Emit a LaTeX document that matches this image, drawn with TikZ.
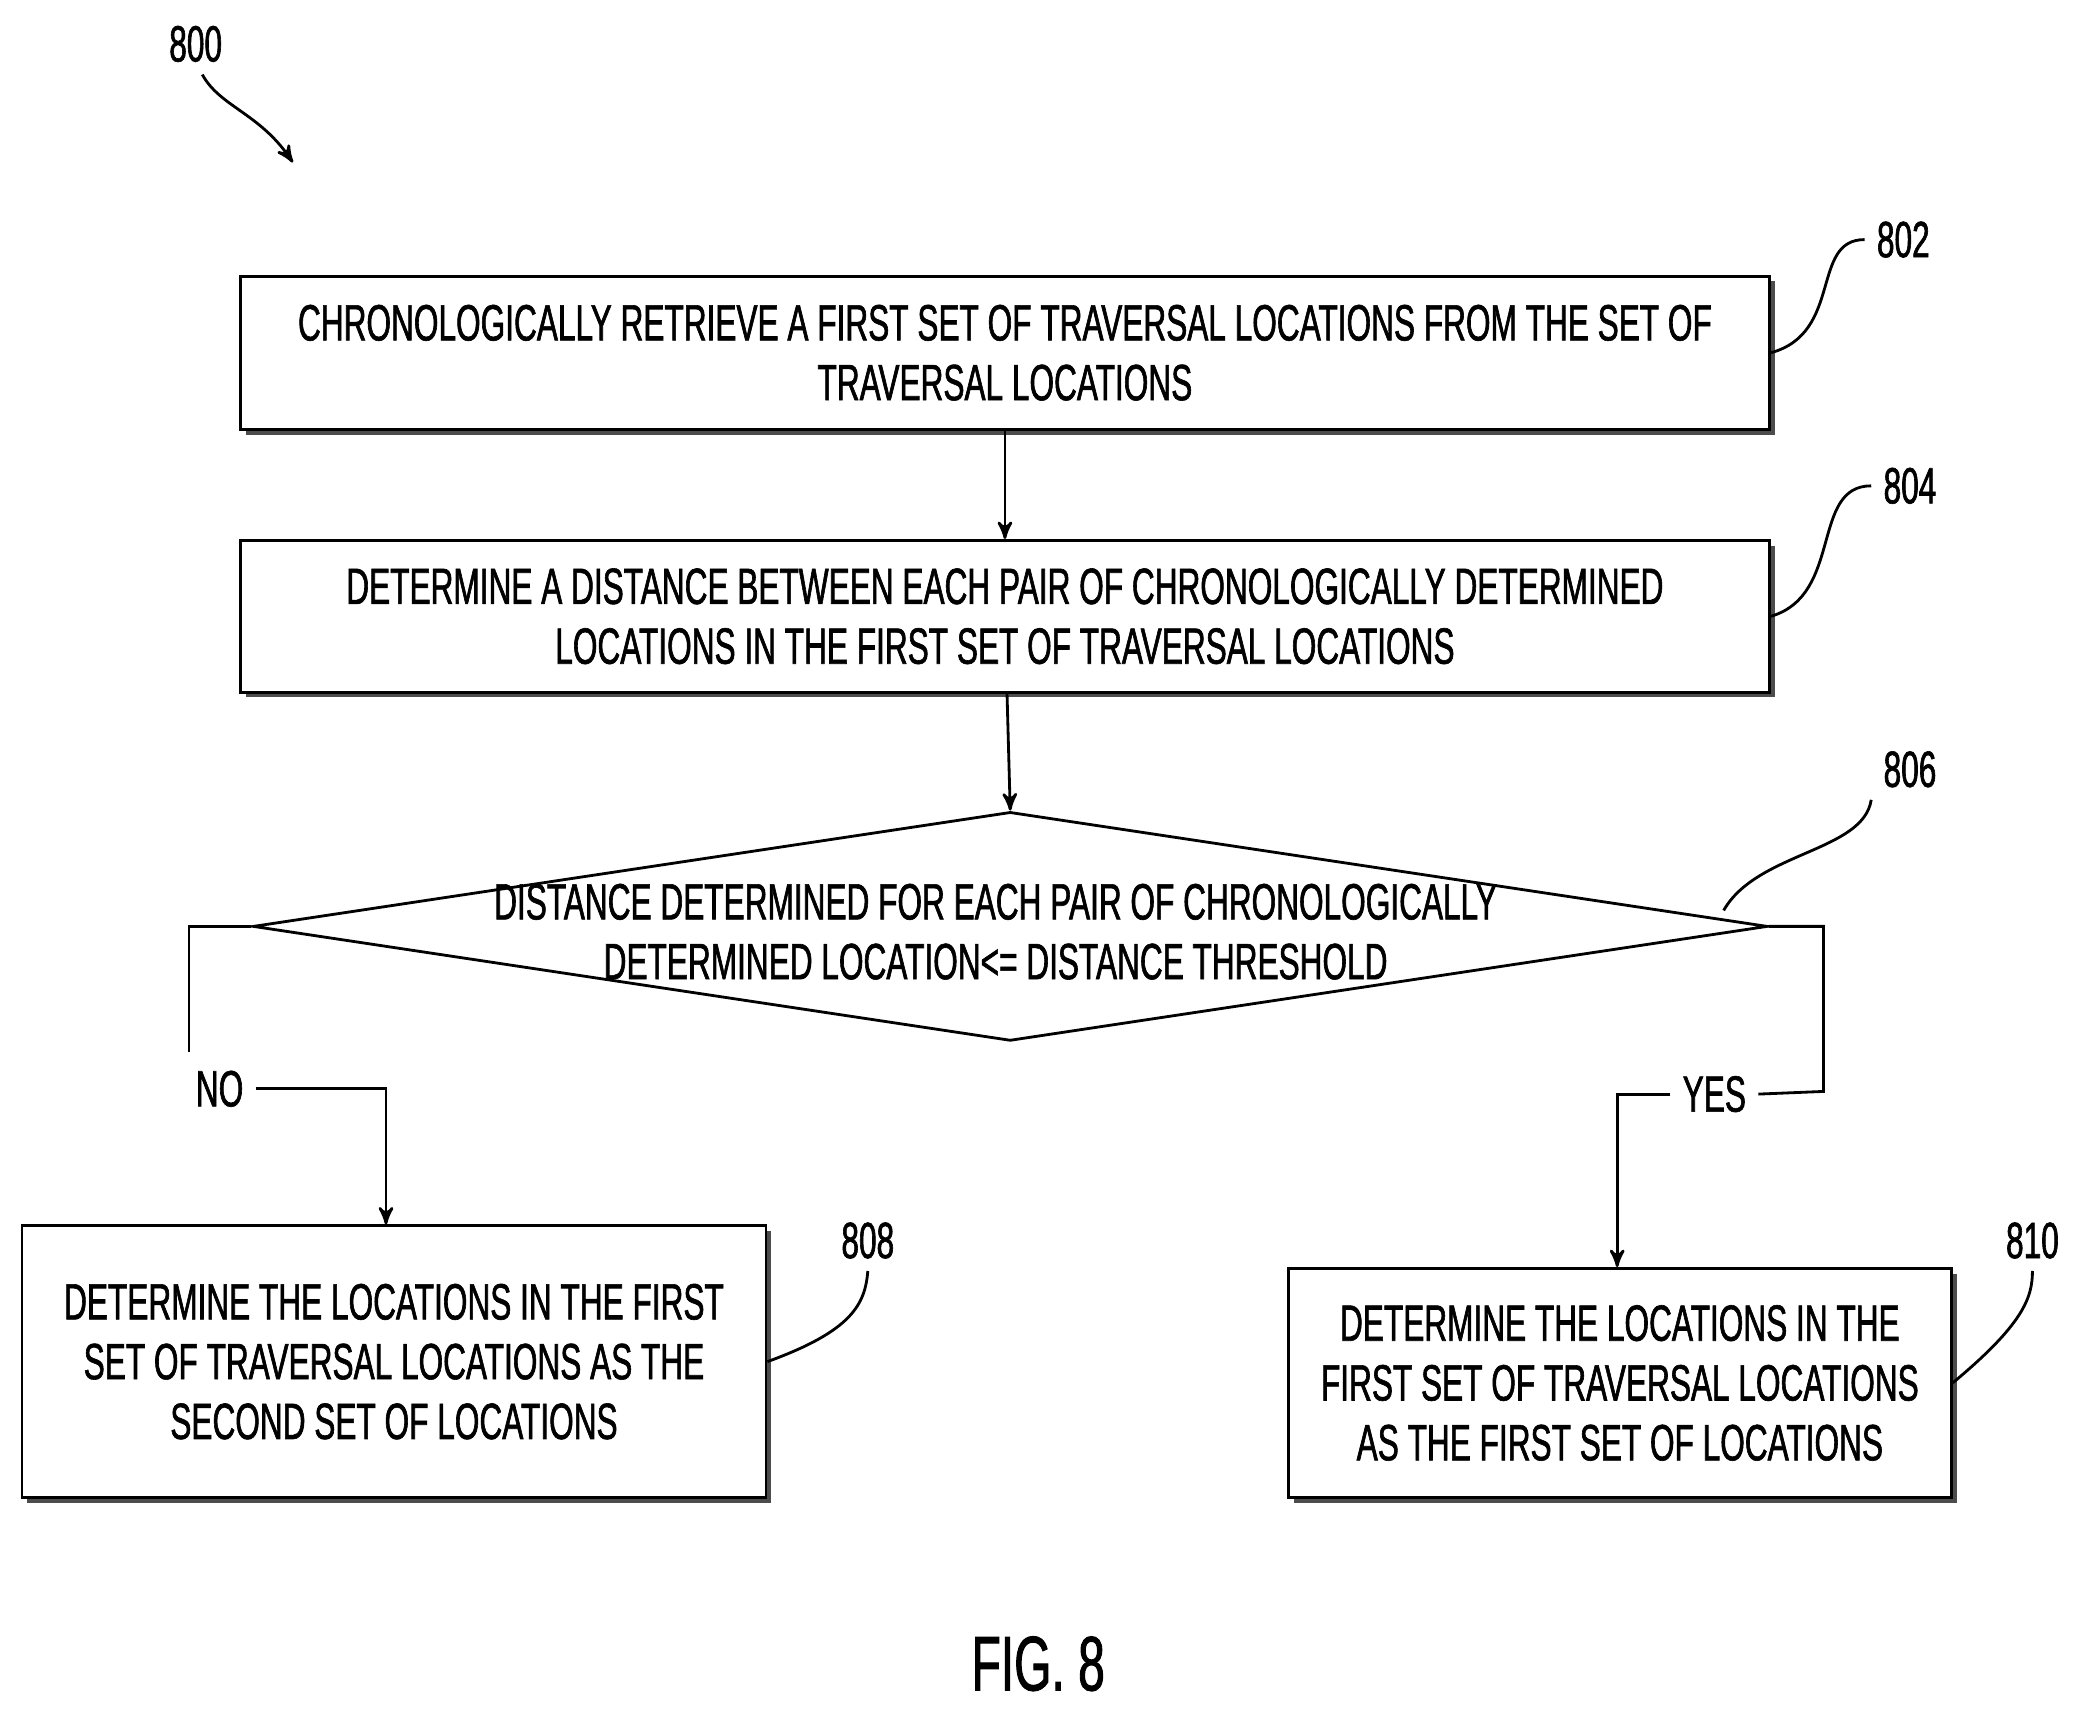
\documentclass[tikz,border=0pt]{standalone}
\usepackage{fontspec}
\setmainfont[FakeStretch=0.62,FakeBold=1.2]{Liberation Sans}
\usetikzlibrary{arrows,shapes.geometric,shadows}

\begin{document}
\begin{tikzpicture}[x=0.01331cm,y=-0.01331cm,>=stealth',font=\fontsize{14.5}{17}\selectfont,
    box/.style={draw,thick,fill=white,align=center,inner sep=0pt,
        drop shadow={shadow xshift=1.5pt,shadow yshift=-1.5pt,fill=black!70,opacity=1}},
    lead/.style={thick},
    flow/.style={thick,->}]
  \useasboundingbox (0,0) rectangle (1568,1288);

  \node (n800) at (147,33) {800};
  \coordinate (a800) at (220,122);
  \draw[flow] (152,56) .. controls (165,80) and (195,85) .. (a800);

  \node[box,minimum width=1149*0.01331cm,minimum height=115*0.01331cm] (b802) at (755,265)
    {CHRONOLOGICALLY RETRIEVE A FIRST SET OF TRAVERSAL LOCATIONS FROM THE SET OF\\TRAVERSAL LOCATIONS};
  \node[box,minimum width=1149*0.01331cm,minimum height=114*0.01331cm] (b804) at (755,463)
    {DETERMINE A DISTANCE BETWEEN EACH PAIR OF CHRONOLOGICALLY DETERMINED\\LOCATIONS IN THE FIRST SET OF TRAVERSAL LOCATIONS};
  \node[draw,thick,diamond,inner sep=0pt,aspect=6.6,minimum width=1138*0.01331cm,minimum height=172*0.01331cm] (d806) at (759,696) {};
  \node[align=center] (t806) at (748,700)
    {DISTANCE DETERMINED FOR EACH PAIR OF CHRONOLOGICALLY\\DETERMINED LOCATION<= DISTANCE THRESHOLD};
  \node[box,minimum width=559*0.01331cm,minimum height=204*0.01331cm] (b808) at (296,1023)
    {DETERMINE THE LOCATIONS IN THE FIRST\\SET OF TRAVERSAL LOCATIONS AS THE\\SECOND SET OF LOCATIONS};
  \node[box,minimum width=498*0.01331cm,minimum height=172*0.01331cm] (b810) at (1217,1039)
    {DETERMINE THE LOCATIONS IN THE\\FIRST SET OF TRAVERSAL LOCATIONS\\AS THE FIRST SET OF LOCATIONS};

  % reference numerals
  \node (n802) at (1430,180) {802};
  \node (n804) at (1435,365) {804};
  \node (n806) at (1435,578) {806};
  \node (n808) at (652,932) {808};
  \node (n810) at (1527,932) {810};
  \draw[lead] (b802.east) .. controls (1385,250) and (1360,180) .. (n802.west);
  \draw[lead] (b804.east) .. controls (1385,447) and (1360,365) .. (n804.west);
  \draw[lead] (1295,684) .. controls (1320,640) and (1400,640) .. (n806.south west);
  \draw[lead] (b808.east) .. controls (640,1000) and (650,980) .. (n808.south);
  \draw[lead] (b810.east) .. controls (1520,995) and (1527,975) .. (n810.south);

  % branches
  \node (no) at (165,818) {NO};
  \node (yes) at (1288,822) {YES};
  \draw[thick] (d806.west) -| (142,790);
  \draw[flow] (no.east) -| (b808.north -| 290,0);
  \draw[thick] (d806.east) -| (1370,820) -- (yes.east);
  \draw[flow] (yes.west) -| (b810.north -| 1215,0);
  \draw[flow] (b802) -- (b804);
  \draw[flow] (b804) -- (d806.north);

  \node[font=\fontsize{22}{26}\selectfont] (fig) at (780,1250) {FIG. 8};
\end{tikzpicture}
\end{document}
